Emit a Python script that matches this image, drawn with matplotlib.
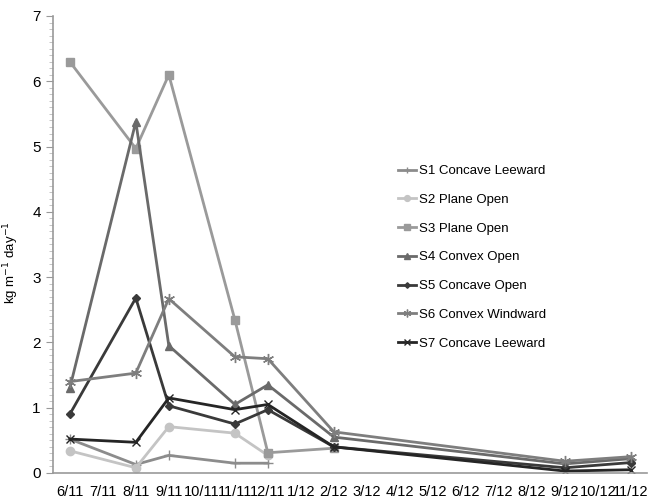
import matplotlib.pyplot as plt
from matplotlib.ticker import MultipleLocator
import numpy as np

plt.rcParams['font.family'] = ['Liberation Sans', 'DejaVu Sans']

# Categories on the x axis (month/year)
months = ['6/11', '7/11', '8/11', '9/11', '10/11', '11/11', '12/11', '1/12', '2/12',
          '3/12', '4/12', '5/12', '6/12', '7/12', '8/12', '9/12', '10/12', '11/12']

# Sampling dates of each series
dates_short = ['6/11', '8/11', '9/11', '11/11', '12/11']
dates_s3 = ['6/11', '8/11', '9/11', '11/11', '12/11', '2/12']
dates_long = ['6/11', '8/11', '9/11', '11/11', '12/11', '2/12', '9/12', '11/12']

s1 = [0.52, 0.13, 0.27, 0.15, 0.15]
s2 = [0.34, 0.08, 0.71, 0.61, 0.27]
s3 = [6.30, 4.97, 6.10, 2.35, 0.31, 0.38]
s4 = [1.30, 5.38, 1.95, 1.05, 1.35, 0.55, 0.14, 0.22]
s5 = [0.90, 2.68, 1.03, 0.75, 0.97, 0.40, 0.08, 0.16]
s6 = [1.40, 1.53, 2.67, 1.78, 1.75, 0.63, 0.18, 0.25]
s7 = [0.52, 0.47, 1.15, 0.97, 1.05, 0.40, 0.03, 0.05]

series = [
    ('S1 Concave Leeward', dates_short, s1, '#8c8c8c', '+', 7),
    ('S2 Plane Open', dates_short, s2, '#c4c4c4', 'o', 6),
    ('S3 Plane Open', dates_s3, s3, '#9a9a9a', 's', 6),
    ('S4 Convex Open', dates_long, s4, '#6a6a6a', '^', 6),
    ('S5 Concave Open', dates_long, s5, '#3a3a3a', 'D', 4),
    ('S6 Convex Windward', dates_long, s6, '#7e7e7e', (6, 2, 0), 8),
    ('S7 Concave Leeward', dates_long, s7, '#252525', 'x', 6),
]

fig = plt.figure(figsize=(6.5, 5), dpi=100)
ax = fig.add_axes([0.082, 0.054, 0.914, 0.914])

for label, d, vals, col, mk, ms in series:
    x = [months.index(m) for m in d]
    ax.plot(x, vals, color=col, marker=mk, markersize=ms, linewidth=2,
            markeredgecolor=col, markerfacecolor=col, label=label)

ax.set_xlim(-0.5, len(months) - 0.5)
ax.set_ylim(0, 7)
ax.set_xticks(np.arange(len(months)))
ax.set_xticklabels(months)
ax.yaxis.set_major_locator(MultipleLocator(1))
ax.yaxis.set_minor_locator(MultipleLocator(0.1))

for side in ['top', 'right']:
    ax.spines[side].set_visible(False)
for side in ['left', 'bottom']:
    ax.spines[side].set_color('#999999')
    ax.spines[side].set_linewidth(1.2)

ax.tick_params(axis='x', length=0, labelsize=10.5, pad=9, colors='black')
ax.tick_params(axis='y', which='major', length=5, color='#999999', labelsize=11, pad=4)
ax.tick_params(axis='y', which='minor', length=3, color='#bbbbbb')

ax.set_ylabel('kg m$^{-1}$ day$^{-1}$', fontsize=9.5)
ax.yaxis.set_label_coords(-0.055, 0.46)

ax.legend(loc='upper left', bbox_to_anchor=(0.56, 0.70), frameon=False,
          fontsize=9.5, handlelength=1.4, handletextpad=0.2, labelspacing=1.25,
          markerscale=0.7)

plt.savefig('out.png', dpi=100)
plt.close()
